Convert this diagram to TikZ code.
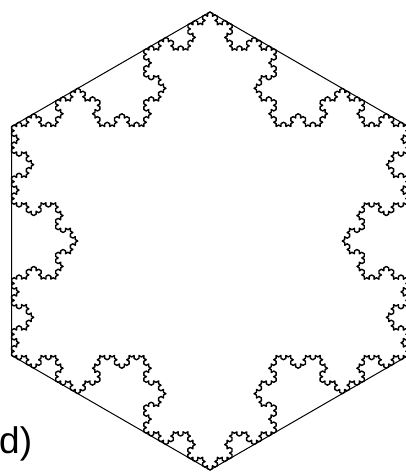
\documentclass[tikz,border=0pt]{standalone}
\usepackage{fontspec}
\setmainfont{Liberation Sans}
\usepackage{tikz}
\usetikzlibrary{decorations.fractals}

\begin{document}
\begin{tikzpicture}[x=1pt, y=1pt,
    rim/.style={draw=black, line width=1pt},
    kochline/.style={draw=black, line width=1.4pt, line join=round,
                     decoration={Koch snowflake}}]
  \useasboundingbox (0,0) rectangle (406,472);
  % hexagon corners, counterclockwise from the top
  \foreach \k in {0,...,5}
    \coordinate (v\k) at ([shift={(210,231)}] 90+60*\k:229);
  \draw[rim] (v0) -- (v1) -- (v2) -- (v3) -- (v4) -- (v5) -- cycle;
  % Koch curve on every side, turned inwards
  \foreach \a/\b in {0/1,1/2,2/3,3/4,4/5,5/0}
    \draw[kochline] decorate{decorate{decorate{decorate{(v\a) -- (v\b)}}}};
  \node[anchor=base west, inner sep=0pt,
        font=\fontsize{37}{40}\selectfont] (tag) at (-1,19) {d)};
\end{tikzpicture}
\end{document}
